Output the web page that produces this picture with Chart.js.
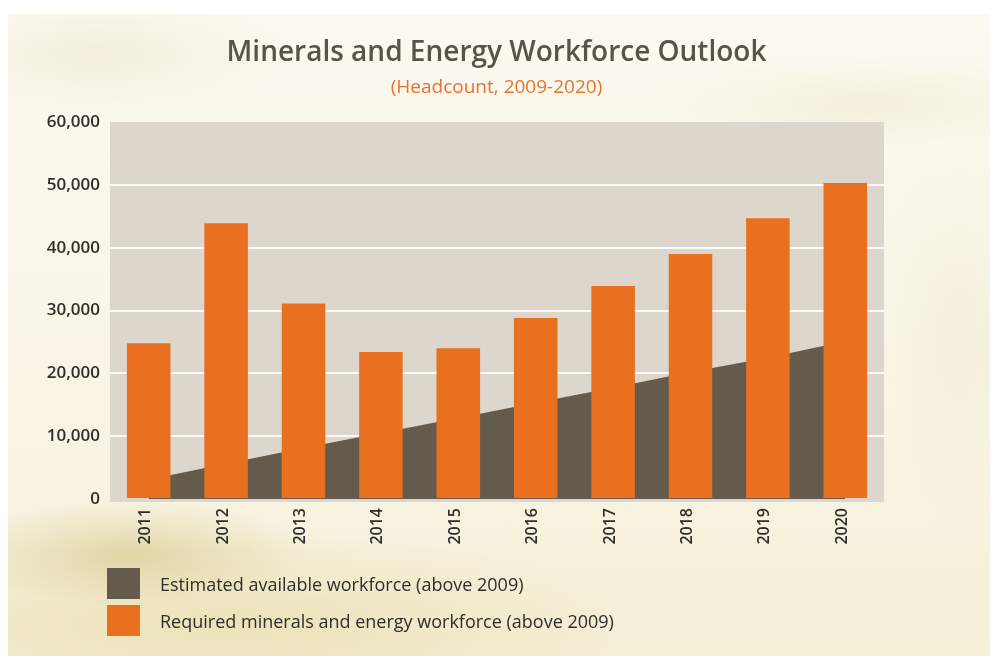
<!DOCTYPE html>
<html>
<head>
<meta charset="utf-8">
<script src="https://cdn.jsdelivr.net/npm/chart.js@4.4.0/dist/chart.umd.min.js"></script>
<style>
  html, body { margin: 0; padding: 0; background: #ffffff; }
  #wrap { position: relative; width: 993px; height: 659px; overflow: hidden; background: #ffffff; }
  #bg {
    position: absolute; left: 8px; top: 14px; width: 982px; height: 642px;
    background:
      radial-gradient(ellipse 240px 70px at 120px 540px, rgba(205,196,128,0.55), rgba(205,196,128,0) 75%),
      radial-gradient(ellipse 560px 120px at 220px 610px, rgba(228,219,165,0.65), rgba(228,219,165,0) 75%),
      radial-gradient(ellipse 300px 60px at 860px 90px, rgba(240,234,205,0.6), rgba(240,234,205,0) 75%),
      radial-gradient(ellipse 120px 260px at 950px 320px, rgba(242,236,212,0.6), rgba(242,236,212,0) 75%),
      radial-gradient(ellipse 260px 80px at 90px 40px, rgba(238,232,205,0.6), rgba(238,232,205,0) 75%),
      linear-gradient(180deg, #fbf9f1 0%, #f9f4e4 60%, #f6efd8 100%);
  }
  canvas#chart { position: absolute; left: 0; top: 0; }
  .ttl { position: absolute; left: 0; width: 993px; text-align: center; font-family: 'Open Sans', sans-serif; line-height: 1; white-space: nowrap; }
  #title { top: 36px; font-size: 28px; font-weight: 600; color: #5a5347; }
  #subtitle { top: 77px; font-size: 19px; font-weight: 400; color: #e8732a; }
  #legend { position: absolute; left: 107px; top: 568px; font-family: 'Open Sans', sans-serif; font-size: 18px; color: #2e2e2a; }
  .li { display: flex; align-items: center; height: 31px; margin-bottom: 6px; }
  .sw { width: 33px; height: 31px; margin-right: 20px; flex: none; }
</style>
</head>
<body>
<div id="wrap">
  <div id="bg"></div>
  <canvas id="chart" width="993" height="659"></canvas>
  <div id="title" class="ttl">Minerals and Energy Workforce Outlook</div>
  <div id="subtitle" class="ttl">(Headcount, 2009-2020)</div>
  <div id="legend"></div>
</div>
<script>
// ---- data ----
const years = ['2011', '2012', '2013', '2014', '2015', '2016', '2017', '2018', '2019', '2020'];
const estimatedAvailable = [3100, 5600, 8100, 10500, 12900, 15300, 17700, 20200, 22500, 25100];
const requiredWorkforce = [24800, 43900, 31100, 23400, 24000, 28800, 33900, 39000, 44700, 50300];
const yTickValues = [0, 10000, 20000, 30000, 40000, 50000, 60000];
const yTickLabels = ['0', '10,000', '20,000', '30,000', '40,000', '50,000', '60,000'];
const seriesNames = ['Estimated available workforce (above 2009)', 'Required minerals and energy workforce (above 2009)'];

const plotBg = {
  id: 'plotBg',
  beforeDraw(chart) {
    const { ctx, chartArea: a } = chart;
    ctx.save();
    ctx.fillStyle = '#dcd6cd';
    ctx.fillRect(a.left, a.top, a.right - a.left, a.bottom - a.top + 3);
    ctx.restore();
  }
};

const chart = new Chart(document.getElementById('chart'), {
  type: 'bar',
  data: {
    labels: years,
    datasets: [
      {
        type: 'line',
        label: seriesNames[0],
        data: estimatedAvailable,
        fill: 'origin',
        backgroundColor: '#655b4c',
        borderColor: 'rgba(0,0,0,0)',
        borderWidth: 0,
        pointRadius: 0,
        tension: 0,
        order: 2
      },
      {
        type: 'bar',
        label: seriesNames[1],
        data: requiredWorkforce,
        backgroundColor: '#e8701f',
        borderWidth: 0,
        barPercentage: 0.9,
        categoryPercentage: 0.625,
        order: 1
      }
    ]
  },
  options: {
    responsive: false,
    animation: false,
    layout: { padding: { top: 122, right: 109, bottom: 0, left: 0 } },
    plugins: { legend: { display: false }, tooltip: { enabled: false }, title: { display: false } },
    scales: {
      x: {
        grid: { display: false, drawTicks: false },
        border: { display: false },
        ticks: {
          minRotation: 90, maxRotation: 90, padding: 9, labelOffset: -3,
          color: '#2e2e2a',
          font: { family: "'Open Sans', sans-serif", size: 16, weight: '600' }
        },
        afterFit(s) { s.height = 160; }
      },
      y: {
        min: 0, max: 60000,
        afterBuildTicks(s) { s.ticks = yTickValues.map(v => ({ value: v })); },
        grid: {
          drawTicks: false,
          lineWidth: 2,
          color: (c) => (c.tick && (c.tick.value === 0 || c.tick.value === 60000)) ? 'rgba(0,0,0,0)' : '#fbfaf6'
        },
        border: { display: false },
        ticks: {
          padding: 10,
          color: '#2e2e2a',
          font: { family: "'Open Sans', sans-serif", size: 17, weight: '600' },
          callback: (v) => yTickLabels[yTickValues.indexOf(v)]
        },
        afterFit(s) { s.width = 110; }
      }
    }
  },
  plugins: [plotBg]
});

// HTML legend built from the chart's datasets
const legend = document.getElementById('legend');
chart.data.datasets.forEach(ds => {
  const row = document.createElement('div');
  row.className = 'li';
  const sw = document.createElement('span');
  sw.className = 'sw';
  sw.style.background = ds.backgroundColor;
  const tx = document.createElement('span');
  tx.textContent = ds.label;
  row.appendChild(sw);
  row.appendChild(tx);
  legend.appendChild(row);
});
</script>
</body>
</html>
